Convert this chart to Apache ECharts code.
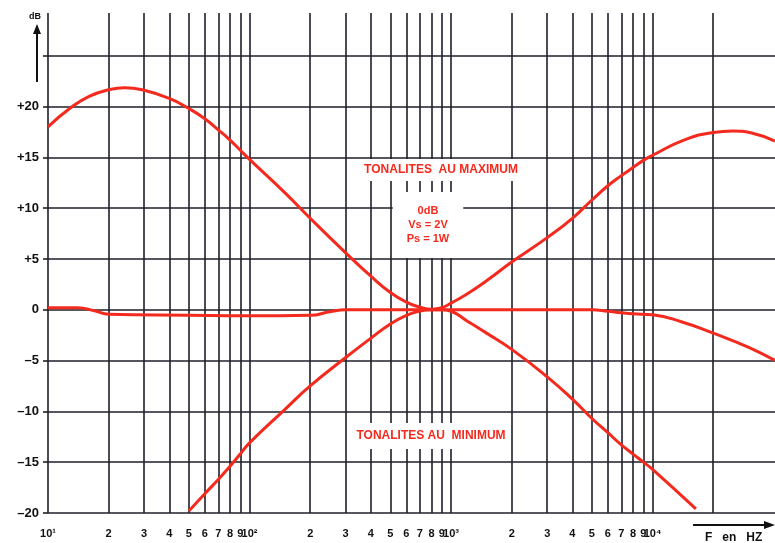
<!DOCTYPE html>
<html>
<head>
<meta charset="utf-8">
<script src="https://cdn.jsdelivr.net/npm/echarts@6/dist/echarts.min.js"></script>
<style>
html, body { margin: 0; padding: 0; background: #fff; }
#chart { width: 775px; height: 543px; }
</style>
</head>
<body>
<div id="chart"></div>
<script>
// frequency grid (Hz) and its labels
var xTicks = [10, 20, 30, 40, 50, 60, 70, 80, 90,
	100, 200, 300, 400, 500, 600, 700, 800, 900,
	1000, 2000, 3000, 4000, 5000, 6000, 7000, 8000, 9000,
	10000, 20000];
var xTickLabels = ['10\u00b9', '2', '3', '4', '5', '6', '7', '8', '9',
	'10\u00b2', '2', '3', '4', '5', '6', '7', '8', '9',
	'10\u00b3', '2', '3', '4', '5', '6', '7', '8', '9',
	'10\u2074', ''];
var yTicks = [-20, -15, -10, -5, 0, 5, 10, 15, 20, 25];
var yTickLabels = ['\u201320', '\u201315', '\u201310', '\u20135', '0', '+5', '+10', '+15', '+20', ''];

// tonalites au maximum
var maxFreq = [10, 13, 16, 20, 24, 30, 40, 50, 60, 70, 80, 90, 100, 150, 200, 300, 400, 500, 600, 700, 800,
	900, 1000, 1200, 1500, 2000, 3000, 4000, 5000, 6000, 7000, 8000, 9000, 10000, 14300, 20000, 25000, 31000, 40500];
var maxDb = [18.0, 19.9, 21.0, 21.65, 21.85, 21.6, 20.8, 19.8, 18.8, 17.7, 16.7, 15.7, 14.8, 11.5, 9.0, 5.6, 3.3, 1.7, 0.75, 0.25, 0.05,
	0.2, 0.65, 1.55, 2.85, 4.7, 7.1, 9.0, 10.8, 12.2, 13.2, 14.0, 14.7, 15.2, 16.7, 17.45, 17.6, 17.4, 16.6];

// tonalites au minimum
var minFreq = [50, 60, 70, 80, 90, 100, 150, 200, 300, 400, 500, 600, 700, 800, 900, 1000, 1200, 1500, 2000,
	3000, 4000, 5000, 6000, 7000, 8000, 9000, 10000, 16400];
var minDb = [-19.8, -18.1, -16.7, -15.4, -14.2, -13.1, -9.8, -7.5, -4.7, -2.8, -1.4, -0.55, -0.12, 0, 0, -0.15, -1.1, -2.3, -3.9,
	-6.6, -8.8, -10.7, -12.1, -13.3, -14.2, -15.0, -15.7, -19.6];

// tonalites a zero
var flatFreq = [10, 14, 17, 20, 50, 100, 200, 250, 300, 1000, 5000, 6000, 7000, 8000, 10000, 14000, 20000, 30000, 40500];
var flatDb = [0.2, 0.2, -0.1, -0.45, -0.55, -0.6, -0.55, -0.2, 0, 0, 0, -0.15, -0.3, -0.4, -0.5, -1.2, -2.3, -3.7, -5.0];

function pairs(xs, ys) {
	var out = [];
	for (var i = 0; i < xs.length; i++) out.push([xs[i], ys[i]]);
	return out;
}

var RED = '#f52a1e';
var INK = '#1e1e2a';
var FONT = 'Liberation Sans';

var gridLines = [];
xTicks.forEach(function (v) { gridLines.push({ xAxis: v }); });
yTicks.forEach(function (v) { gridLines.push({ yAxis: v }); });

function curve(name, data) {
	return {
		name: name,
		type: 'line',
		data: data,
		smooth: 0.5,
		showSymbol: false,
		z: 5,
		lineStyle: { color: RED, width: 3 }
	};
}

var myChart = echarts.init(document.getElementById('chart'));
myChart.setOption({
	animation: false,
	backgroundColor: '#fff',
	grid: { left: 48, right: 0, top: 13, bottom: 30 },
	xAxis: {
		type: 'log',
		min: 10,
		max: 40500,
		axisLine: { show: false },
		axisTick: { show: false },
		splitLine: { show: false },
		axisLabel: {
			customValues: xTicks,
			margin: 15,
			color: '#111',
			fontFamily: FONT,
			fontWeight: 'bold',
			fontSize: 11,
			formatter: function (v) {
				var i = xTicks.indexOf(Math.round(v));
				return i < 0 ? '' : xTickLabels[i];
			}
		}
	},
	yAxis: {
		type: 'value',
		min: -20,
		max: 29.2,
		interval: 5,
		axisLine: { show: false },
		axisTick: { show: true, customValues: yTicks, length: 5, lineStyle: { color: INK, width: 1.6 } },
		splitLine: { show: false },
		axisLabel: {
			customValues: yTicks,
			margin: 9,
			color: '#111',
			fontFamily: FONT,
			fontWeight: 'bold',
			fontSize: 13,
			formatter: function (v) {
				var i = yTicks.indexOf(Math.round(v));
				return i < 0 ? '' : yTickLabels[i];
			}
		}
	},
	series: [
		{
			name: 'grille',
			type: 'line',
			data: [],
			z: 1,
			markLine: {
				silent: true,
				symbol: ['none', 'none'],
				label: { show: false },
				lineStyle: { color: INK, width: 1.6, type: 'solid' },
				data: gridLines
			}
		},
		curve('maximum', pairs(maxFreq, maxDb)),
		curve('minimum', pairs(minFreq, minDb)),
		curve('0dB', pairs(flatFreq, flatDb))
	],
	graphic: [
		{
			type: 'text', z: 50, x: 441, y: 170,
			style: {
				text: 'TONALITES  AU MAXIMUM', fill: RED, font: 'bold 12px "Liberation Sans"',
				align: 'center', verticalAlign: 'middle', backgroundColor: '#fff', padding: [5, 6]
			}
		},
		{
			type: 'text', z: 50, x: 428, y: 225,
			style: {
				text: '0dB\nVs = 2V\nPs = 1W', fill: RED, font: 'bold 11px "Liberation Sans"', lineHeight: 14,
				align: 'center', verticalAlign: 'middle', backgroundColor: '#fff', padding: [12, 14]
			}
		},
		{
			type: 'text', z: 50, x: 431, y: 436,
			style: {
				text: 'TONALITES AU  MINIMUM', fill: RED, font: 'bold 12px "Liberation Sans"',
				align: 'center', verticalAlign: 'middle', backgroundColor: '#fff', padding: [7, 5]
			}
		},
		// dB arrow
		{ type: 'line', z: 50, shape: { x1: 37, y1: 82, x2: 37, y2: 30 }, style: { stroke: '#111', lineWidth: 2 } },
		{ type: 'polygon', z: 50, shape: { points: [[37, 24], [33, 34], [41, 34]] }, style: { fill: '#111' } },
		{
			type: 'text', z: 50, x: 35, y: 17,
			style: { text: 'dB', fill: '#111', font: 'bold 9px "Liberation Sans"', align: 'center', verticalAlign: 'middle' }
		},
		// frequency arrow
		{ type: 'line', z: 50, shape: { x1: 693, y1: 525, x2: 766, y2: 525 }, style: { stroke: '#111', lineWidth: 2 } },
		{ type: 'polygon', z: 50, shape: { points: [[775, 525], [764, 521], [764, 529]] }, style: { fill: '#111' } },
		{
			type: 'text', z: 50, x: 705, y: 538,
			style: { text: 'F   en   HZ', fill: '#111', font: 'bold 12px "Liberation Sans"', align: 'left', verticalAlign: 'middle' }
		}
	]
});
</script>
</body>
</html>
